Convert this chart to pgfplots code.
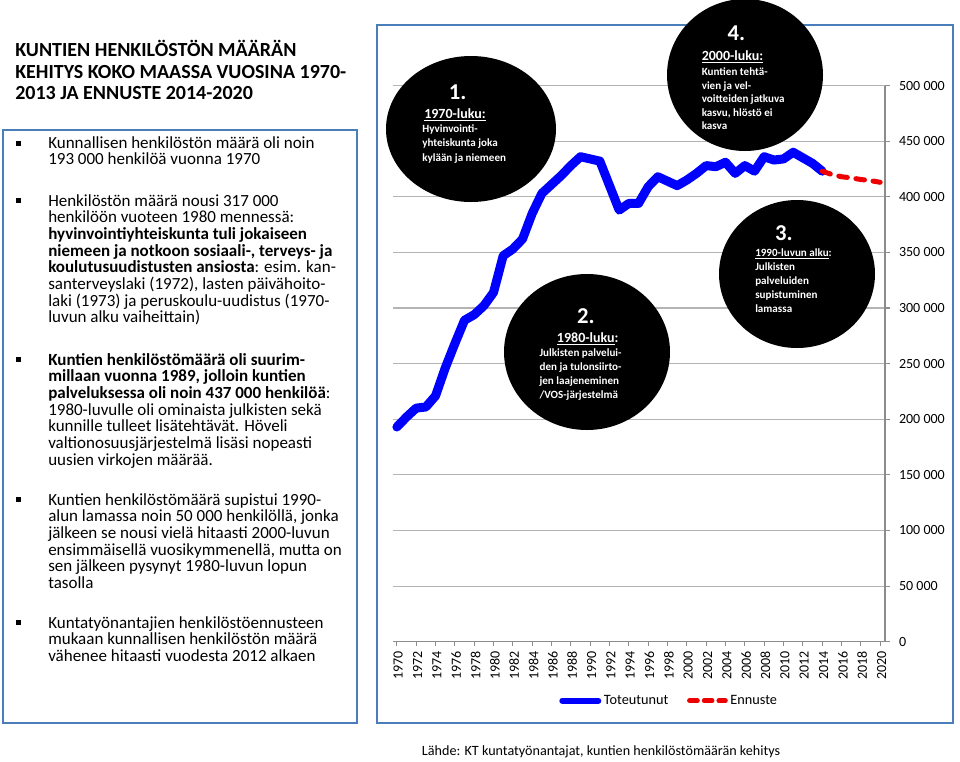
\documentclass[border=0pt]{standalone}
\usepackage{pgfplots}
\usepackage{pgfplotstable}
\pgfplotsset{compat=1.18}
\usepackage{fontspec}
\setmainfont{Carlito}
\definecolor{boxblue}{HTML}{4A7EBB}
\definecolor{gridgray}{HTML}{B4B4B4}
\definecolor{axisgray}{HTML}{8C8C8C}
\definecolor{lineblue}{HTML}{0000FF}
\definecolor{linered}{HTML}{EE0000}
\newcommand{\bodyfont}{\fontsize{12.75}{15}\selectfont}
\newcommand{\cfont}{\bfseries\fontsize{8.3}{10}\selectfont}
\newcommand{\chead}{\bfseries\fontsize{10.5}{12}\selectfont}
\newcommand{\cnum}{\bfseries\fontsize{17}{20}\selectfont}

\pgfplotstableread{
year staff
1970 193000
1971 202000
1972 210000
1973 211000
1974 221000
1975 246000
1976 268000
1977 289000
1978 294000
1979 302000
1980 314000
1981 347000
1982 353000
1983 362000
1984 385000
1985 403000
1986 411000
1987 419000
1988 428000
1989 436000
1990 434000
1991 432000
1992 410000
1993 388000
1994 394000
1995 394000
1996 409000
1997 418000
1998 414000
1999 410000
2000 415000
2001 421000
2002 428000
2003 427000
2004 431000
2005 421000
2006 428000
2007 423000
2008 436000
2009 433000
2010 434000
2011 440000
2012 435000
2013 430000
2014 423000
}\toteutunut

\pgfplotstableread{
year staff
2014 423000
2015 420000
2016 418000
2017 417000
2018 415500
2019 414500
2020 413000
}\ennuste

\begin{document}
\begin{tikzpicture}
\path[use as bounding box] (0pt,0pt) rectangle (720pt,-570.75pt);
\begin{scope}[x=0.75pt,y=-0.75pt]
% frames
\draw[boxblue, line width=1.8pt] (3,130) rectangle (357,723);
\draw[boxblue, line width=2pt] (377,25) rectangle (953,723);
% title
\begin{scope}[every node/.style={anchor=base west, inner sep=0pt, font=\bfseries\fontsize{15}{17}\selectfont}]
\node at (15,56.7) {KUNTIEN HENKILÖSTÖN MÄÄRÄN};
\node at (15,78.3) {KEHITYS KOKO MAASSA VUOSINA 1970-};
\node at (15,99.3) {2013 JA ENNUSTE 2014-2020};
\end{scope}
% bullets
\foreach \b in {148.5,206,365,505,628}{\fill (16,\b-8) rectangle (21,\b-3);}
\begin{scope}[every node/.style={anchor=base west, inner sep=0pt, font=\bodyfont}]
\node at (48,148.5) {Kunnallisen henkilöstön määrä oli noin};
\node at (48,164.5) {193 000 henkilöä vuonna 1970};
\node at (48,206) {Henkilöstön määrä nousi 317 000};
\node at (48,222.7) {henkilöön vuoteen 1980 mennessä:};
\node at (48,239.3) {\textbf{hyvinvointiyhteiskunta tuli jokaiseen}};
\node at (48,256) {\textbf{niemeen ja notkoon sosiaali-, terveys- ja}};
\node at (48,272.7) {\textbf{koulutusuudistusten ansiosta}: esim. kan-};
\node at (48,289.3) {santerveyslaki (1972), lasten päivähoito-};
\node at (48,306) {laki (1973) ja peruskoulu-uudistus (1970-};
\node at (48,322.7) {luvun alku vaiheittain)};
\node at (48,365) {\textbf{Kuntien henkilöstömäärä oli suurim-}};
\node at (48,381.7) {\textbf{millaan vuonna 1989, jolloin kuntien}};
\node at (48,398.3) {\textbf{palveluksessa oli noin 437 000 henkilöä}:};
\node at (48,415) {1980-luvulle oli ominaista julkisten sekä};
\node at (48,431.7) {kunnille tulleet lisätehtävät. Höveli};
\node at (48,448.3) {valtionosuusjärjestelmä lisäsi nopeasti};
\node at (48,465) {uusien virkojen määrää.};
\node at (48,505) {Kuntien henkilöstömäärä supistui 1990-};
\node at (48,521.7) {alun lamassa noin 50 000 henkilöllä, jonka};
\node at (48,538.3) {jälkeen se nousi vielä hitaasti 2000-luvun};
\node at (48,555) {ensimmäisellä vuosikymmenellä, mutta on};
\node at (48,571.7) {sen jälkeen pysynyt 1980-luvun lopun};
\node at (48,588.3) {tasolla};
\node at (48,628) {Kuntatyönantajien henkilöstöennusteen};
\node at (48,644.7) {mukaan kunnallisen henkilöstön määrä};
\node at (48,661.3) {vähenee hitaasti vuodesta 2012 alkaen};
\node[font=\fontsize{10.6}{12}\selectfont] at (421.7,755.5) {Lähde: KT kuntatyönantajat, kuntien henkilöstömäärän kehitys};
\end{scope}
\end{scope}

\begin{axis}[
  at={(294.75pt,-481.275pt)}, anchor=south west,
  scale only axis,
  width=369pt, height=417.15pt,
  xmin=1969.6, xmax=2020.5,
  ymin=0, ymax=500000,
  axis x line*=bottom, axis y line*=right,
  axis line style={axisgray, line width=0.8pt},
  xtick={1970,1972,...,2020},
  xticklabels={1970,1972,1974,1976,1978,1980,1982,1984,1986,1988,1990,1992,1994,1996,1998,2000,2002,2004,2006,2008,2010,2012,2014,2016,2018,2020},
  ytick={0,50000,100000,150000,200000,250000,300000,350000,400000,450000,500000},
  yticklabels={0,50 000,100 000,150 000,200 000,250 000,300 000,350 000,400 000,450 000,500 000},
  ymajorgrids, grid style={gridgray, line width=0.8pt},
  tick align=outside,
  major tick length=3.5pt,
  tick style={axisgray, line width=0.8pt},
  tick label style={font=\fontsize{10.5}{12}\selectfont},
  x tick label style={rotate=90, anchor=east, yshift=-1pt},
  yticklabel pos=right,
  y tick label style={anchor=west, xshift=3.5pt},
  scaled y ticks=false,
  legend columns=2,
  legend cell align=left,
  legend style={at={(0.562,-0.106)}, anchor=center, draw=none, fill=none,
    font=\fontsize{10.7}{12}\selectfont,
    /tikz/every even column/.append style={column sep=12pt}},
  clip=false,
]
\addplot[lineblue, line width=6.75pt, line join=round, line cap=round,
  legend image code/.code={\draw[lineblue, line width=4.5pt, line cap=round] (0pt,0pt) -- (27pt,0pt);}]
  table[x=year,y=staff]{\toteutunut};
\addlegendentry{Toteutunut}
\addplot[linered, line width=3.75pt, line cap=round, dash pattern=on 6.5pt off 6.5pt,
  legend image code/.code={\draw[linered, line width=3.5pt, line cap=round, dash pattern=on 6pt off 5pt] (0pt,0pt) -- (27pt,0pt);}]
  table[x=year,y=staff]{\ennuste};
\addlegendentry{Ennuste}
\end{axis}

\begin{scope}[x=0.75pt,y=-0.75pt]
\fill (471,129) ellipse [x radius=63.75pt, y radius=54.75pt];
\fill (587,352) ellipse [x radius=62.25pt, y radius=58.5pt];
\fill (797,274) ellipse [x radius=58.5pt, y radius=55.5pt];
\fill (745,75) ellipse [x radius=58.5pt, y radius=57pt];
\begin{scope}[every node/.style={text=white, inner sep=0pt}]
% circle 1
\node[anchor=base, font=\cnum] at (457.6,99) {1.};
\node[anchor=base west, font=\chead] at (424,118) {\underline{1970-luku:}};
\node[anchor=base west, font=\cfont] at (422,132) {Hyvinvointi-};
\node[anchor=base west, font=\cfont] at (422,146.5) {yhteiskunta joka};
\node[anchor=base west, font=\cfont] at (422,161) {kylään ja niemeen};
% circle 2
\node[anchor=base, font=\cnum] at (586,323.3) {2.};
\node[anchor=base west, font=\chead] at (556.7,342.3) {\underline{1980-luku}:};
\node[anchor=base west, font=\cfont] at (539.3,356.7) {Julkisten palvelui-};
\node[anchor=base west, font=\cfont] at (539.3,370.7) {den ja tulonsiirto-};
\node[anchor=base west, font=\cfont] at (539.3,384.3) {jen laajeneminen};
\node[anchor=base west, font=\cfont] at (539.3,398.3) {/VOS-järjestelmä};
% circle 3
\node[anchor=base, font=\cnum] at (784,240) {3.};
\node[anchor=base west, font=\cfont] at (755,256.7) {\underline{1990-luvun alku}:};
\node[anchor=base west, font=\cfont] at (755,270.7) {Julkisten};
\node[anchor=base west, font=\cfont] at (755,284.3) {palveluiden};
\node[anchor=base west, font=\cfont] at (755,298.3) {supistuminen};
\node[anchor=base west, font=\cfont] at (755,312) {lamassa};
% circle 4
\node[anchor=base, font=\cnum] at (736.5,40) {4.};
\node[anchor=base west, font=\chead] at (701.5,60.3) {\underline{2000-luku:}};
\node[anchor=base west, font=\cfont] at (701.5,75.5) {Kuntien tehtä-};
\node[anchor=base west, font=\cfont] at (701.5,89) {vien ja vel-};
\node[anchor=base west, font=\cfont] at (701.5,102.5) {voitteiden jatkuva};
\node[anchor=base west, font=\cfont] at (701.5,116) {kasvu, hlöstö ei};
\node[anchor=base west, font=\cfont] at (701.5,129.5) {kasva};
\end{scope}
\end{scope}
\end{tikzpicture}
\end{document}
